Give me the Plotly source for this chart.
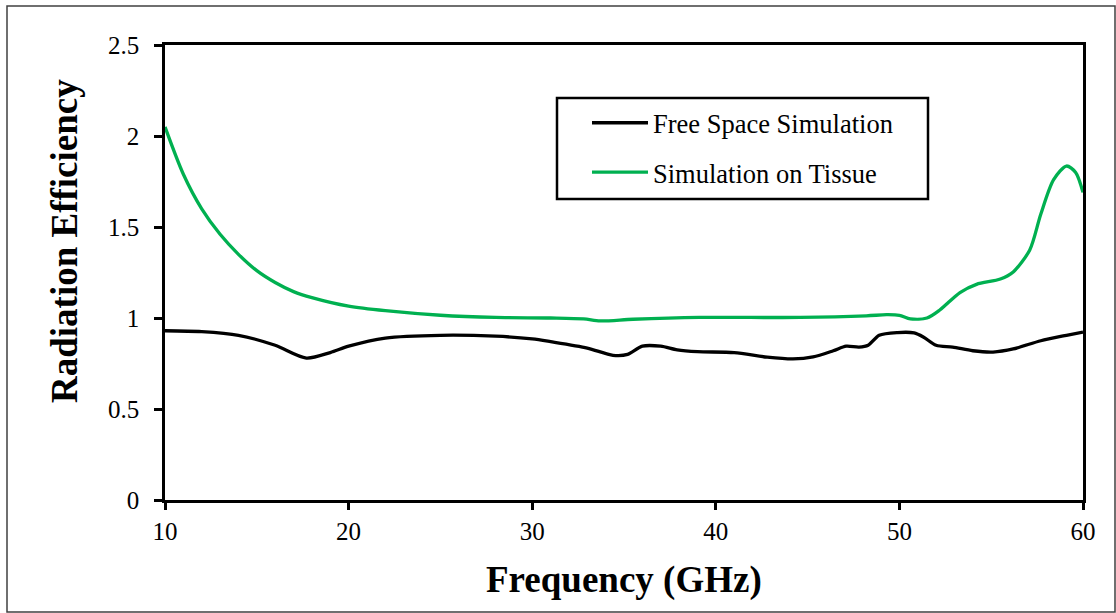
import plotly.graph_objects as go

# Free space simulation (black)
freq_free = [10, 12, 14, 16, 17.7, 19, 20, 22, 25, 28, 30, 31, 33, 34.4, 35.2, 36, 37,
             37.9, 39, 41, 42.8, 44.2, 45.3, 46.4, 47.1, 47.8, 48.3, 48.9, 49.9, 50.8,
             51.3, 52, 52.9, 54, 55.1, 56.2, 57.7, 59.1, 60]
eff_free = [0.93, 0.925, 0.905, 0.85, 0.78, 0.81, 0.845, 0.89, 0.905, 0.9, 0.885, 0.87,
            0.835, 0.795, 0.80, 0.845, 0.845, 0.825, 0.815, 0.81, 0.785, 0.775, 0.786,
            0.82, 0.845, 0.84, 0.85, 0.905, 0.92, 0.918, 0.896, 0.85, 0.84, 0.82, 0.813,
            0.83, 0.875, 0.905, 0.923]

# Simulation on tissue (green)
freq_tissue = [10, 11, 12, 13, 14, 15, 16, 17, 18, 20, 22, 25, 28, 31, 32.8, 33.7, 35.5,
               39.1, 44.6, 48.2, 49.3, 50, 50.6, 51.5, 52.2, 53.3, 54.2, 55.5, 56.2, 57.1,
               57.7, 58.4, 59.1, 59.6, 60]
eff_tissue = [2.05, 1.79, 1.6, 1.46, 1.35, 1.26, 1.195, 1.145, 1.112, 1.065, 1.04, 1.015,
              1.003, 1.0, 0.995, 0.984, 0.993, 1.003, 1.003, 1.012, 1.018, 1.015, 0.995,
              1.0, 1.044, 1.14, 1.185, 1.214, 1.253, 1.374, 1.57, 1.76, 1.835, 1.8, 1.69]

x_ticks = [10, 20, 30, 40, 50, 60]
y_ticks = [0, 0.5, 1, 1.5, 2, 2.5]
y_tick_text = ["0", "0.5", "1", "1.5", "2", "2.5"]

FONT = "Liberation Serif"

fig = go.Figure()
fig.add_trace(go.Scatter(x=freq_free, y=eff_free, mode="lines",
                         name="Free Space Simulation", legendgroup="a",
                         line=dict(color="black", width=3.3, shape="spline", smoothing=0.8)))
fig.add_trace(go.Scatter(x=freq_tissue, y=eff_tissue, mode="lines",
                         name="Simulation on Tissue", legendgroup="b",
                         line=dict(color="#00B050", width=3.3, shape="spline", smoothing=0.8)))

L, R, T, B = 165, 33, 45, 113
W, H = 1116, 613
pw, ph = W - L - R, H - T - B

def px(xp):
    return (xp - L) / pw

def py(yp):
    return (H - B - yp) / ph

fig.update_layout(
    width=W, height=H,
    margin=dict(l=L, r=R, t=T, b=B, pad=0),
    paper_bgcolor="white", plot_bgcolor="white",
    font=dict(family=FONT, color="black", size=24),
    showlegend=True,
    legend=dict(x=px(587), y=py(99), xanchor="left", yanchor="top",
                bgcolor="rgba(0,0,0,0)", borderwidth=0,
                font=dict(family=FONT, size=26.5, color="black"),
                tracegroupgap=12, itemwidth=56),
    xaxis=dict(range=[10, 60], tickvals=x_ticks, ticks="outside", ticklen=7,
               tickwidth=2.5, tickcolor="black", showline=True, linewidth=2.5,
               linecolor="black", mirror=True, showgrid=False, zeroline=False,
               tickfont=dict(family=FONT, size=25, color="black")),
    yaxis=dict(range=[0, 2.5], tickvals=y_ticks, ticktext=y_tick_text, ticks="outside",
               ticklen=8, tickwidth=2.5, tickcolor="black", showline=True, linewidth=2.5,
               linecolor="black", mirror=True, showgrid=False, zeroline=False,
               ticklabelstandoff=10,
               tickfont=dict(family=FONT, size=25, color="black")),
    annotations=[
        dict(text="<b>Frequency (GHz)</b>", xref="paper", yref="paper",
             x=px(624), y=py(580), xanchor="center", yanchor="middle", showarrow=False,
             font=dict(family=FONT, size=37, color="black")),
        dict(text="<b>Radiation Efficiency</b>", xref="paper", yref="paper",
             x=px(64), y=py(241), xanchor="center", yanchor="middle", showarrow=False,
             textangle=-90, font=dict(family=FONT, size=37, color="black")),
    ],
    shapes=[
        dict(type="rect", xref="paper", yref="paper", x0=px(7), x1=px(1115),
             y0=py(6), y1=py(612), line=dict(color="#404040", width=1.5),
             fillcolor="rgba(0,0,0,0)", layer="below"),
        dict(type="rect", xref="paper", yref="paper", x0=px(557), x1=px(928),
             y0=py(98), y1=py(199), line=dict(color="black", width=2.5),
             fillcolor="white", layer="above"),
    ],
)

fig.write_html("out.html")
